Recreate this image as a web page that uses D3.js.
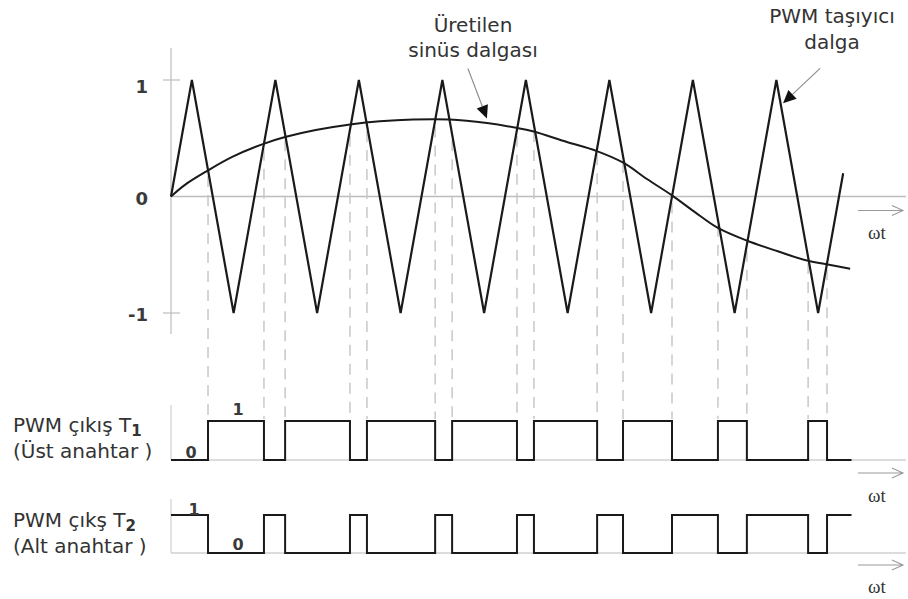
<!DOCTYPE html>
<html>
<head>
<meta charset="utf-8">
<script src="https://cdn.jsdelivr.net/npm/d3@7"></script>
<style>
  body { margin: 0; background: #fff; }
  svg { display: block; font-family: "DejaVu Sans", Verdana, sans-serif; }
</style>
</head>
<body>
<div id="chart"></div>
<script>
// carrier (triangle) corner points, ωt in degrees
const carrierT = [0, 7.5, 22.5, 37.5, 52.5, 67.5, 82.5, 97.5, 112.5, 127.5, 142.5, 157.5, 172.5, 187.5, 202.5, 217.5, 232.5, 241.5];
const carrierV = [0, 1, -1, 1, -1, 1, -1, 1, -1, 1, -1, 1, -1, 1, -1, 1, -1, 0.2];

// reference sine
const sineT = [0, 5, 13, 22, 33, 41, 52, 65, 75, 87, 100, 113.5, 124, 130, 142, 153, 162.5, 171, 180, 188, 196.5, 207, 218, 228.5, 235, 244];
const sineV = [0, 0.1, 0.22, 0.34, 0.45, 0.51, 0.57, 0.62, 0.645, 0.66, 0.66, 0.63, 0.59, 0.56, 0.47, 0.39, 0.29, 0.15, 0.01, -0.13, -0.27, -0.38, -0.47, -0.55, -0.58, -0.62];

// switching instants of T1 (ωt, degrees)
const switchT = [13.3, 33.4, 41, 64.3, 70.4, 94.9, 101, 124.3, 130.4, 153.1, 162.4, 180, 196.5, 206.9, 228.9, 235.7];
const pwmEnd = 244.5;

const yTicks = [1, 0, -1];

const W = 908, H = 599;
const svg = d3.select('#chart').append('svg')
  .attr('width', W)
  .attr('height', H);

// scales
const x = d3.scaleLinear().domain([0, 180]).range([171, 672]);
const y = d3.scaleLinear().domain([-1, 1]).range([313, 80]);
const yT1 = d3.scaleLinear().domain([0, 1]).range([460, 421]);
const yT2 = d3.scaleLinear().domain([0, 1]).range([553, 515]);
const axisEnd = 906;

const grey = '#bdbdbd';
const ink = '#1a1a1a';

const carrier = carrierT.map((t, i) => [t, carrierV[i]]);
const sine = sineT.map((t, i) => [t, sineV[i]]);

function carrierAt(t) {
  for (let i = 1; i < carrier.length; i++) {
    if (t <= carrier[i][0]) {
      const [t0, v0] = carrier[i - 1], [t1, v1] = carrier[i];
      return v0 + (v1 - v0) * (t - t0) / (t1 - t0);
    }
  }
  return carrier[carrier.length - 1][1];
}

// T1 state sequence: starts low, toggles at every switch
const t1Steps = [[0, 0]];
switchT.forEach((t, i) => t1Steps.push([t, (i + 1) % 2]));
t1Steps.push([pwmEnd, t1Steps[t1Steps.length - 1][1]]);
const t2Steps = t1Steps.map(d => [d[0], 1 - d[1]]);

// ---- axes of the top plot ----
svg.append('line')
  .attr('x1', x(0)).attr('x2', x(0))
  .attr('y1', 48).attr('y2', 334)
  .style('stroke', grey).style('stroke-width', 1.2);

svg.append('line')
  .attr('x1', x(0)).attr('x2', axisEnd)
  .attr('y1', y(0)).attr('y2', y(0))
  .style('stroke', grey).style('stroke-width', 1.5);

svg.selectAll('.ytick')
  .data(yTicks.filter(d => d !== 0))
  .enter().append('line')
  .attr('x1', x(0) - 8).attr('x2', x(0) + 9)
  .attr('y1', d => y(d)).attr('y2', d => y(d))
  .style('stroke', grey).style('stroke-width', 1.2);

svg.selectAll('.ylab')
  .data(yTicks)
  .enter().append('text')
  .attr('x', 148)
  .attr('y', d => y(d) + (d === 1 ? 13 : 8))
  .attr('text-anchor', 'end')
  .style('font-size', '18px')
  .style('font-weight', 'bold')
  .style('fill', '#3a3a3a')
  .text(d => d);

// ---- dashed projection lines ----
svg.selectAll('.proj')
  .data(switchT)
  .enter().append('line')
  .attr('x1', d => x(d)).attr('x2', d => x(d))
  .attr('y1', d => y(carrierAt(d)) + 6)
  .attr('y2', yT1(1) - 2)
  .style('stroke', '#c4c4c4')
  .style('stroke-width', 1.4)
  .style('stroke-dasharray', '11,8');

// ---- waves ----
const lineXY = d3.line().x(d => x(d[0])).y(d => y(d[1]));

svg.append('path')
  .attr('d', lineXY(carrier))
  .style('fill', 'none').style('stroke', ink)
  .style('stroke-width', 2.2).style('stroke-linejoin', 'miter');

svg.append('path')
  .attr('d', lineXY.curve(d3.curveCatmullRom)(sine))
  .style('fill', 'none').style('stroke', ink)
  .style('stroke-width', 2);

// ---- ωt arrows ----
function omegaArrow(yy, labelY) {
  svg.append('path')
    .attr('d', `M${axisEnd - 48},${yy}H${axisEnd - 4}M${axisEnd - 14},${yy - 5}L${axisEnd - 3},${yy}L${axisEnd - 14},${yy + 5}`)
    .style('fill', 'none').style('stroke', '#9a9a9a').style('stroke-width', 1.1);
  svg.append('text')
    .attr('x', axisEnd - 29).attr('y', labelY)
    .attr('text-anchor', 'middle')
    .style('font-family', '"Liberation Serif", "Times New Roman", serif')
    .style('font-size', '19px')
    .style('fill', '#333')
    .text('ωt');
}
omegaArrow(y(0) + 14, y(0) + 42);
omegaArrow(yT1(0) + 13, yT1(0) + 42);
omegaArrow(yT2(0) + 12, yT2(0) + 40);

// ---- annotation arrows ----
function pointer(tip, dx, dy) {
  const [tx, ty] = tip;
  const sx = tx + dx, sy = ty + dy;
  const len = Math.hypot(dx, dy), ux = -dx / len, uy = -dy / len;
  const hl = 13, hw = 6;
  const bx = tx - ux * hl, by = ty - uy * hl;
  svg.append('line')
    .attr('x1', sx).attr('y1', sy).attr('x2', bx).attr('y2', by)
    .style('stroke', '#8a8a8a').style('stroke-width', 1.1);
  svg.append('path')
    .attr('d', `M${tx},${ty}L${bx - uy * hw},${by + ux * hw}L${bx + uy * hw},${by - ux * hw}Z`)
    .style('fill', '#111');
}
pointer([x(113.5), y(0.67)], -19, -50);
pointer([x(219.9), y(0.8)], 37, -35);

// ---- top labels ----
function label(lines, cx, baselines) {
  lines.forEach((s, i) => {
    svg.append('text')
      .attr('x', cx).attr('y', baselines[i])
      .attr('text-anchor', 'middle')
      .style('font-size', '20px')
      .style('fill', '#333')
      .text(s);
  });
}
label(['Üretilen', 'sinüs dalgası'], 473, [32, 57]);
label(['PWM taşıyıcı', 'dalga'], 832, [23, 49]);

// ---- PWM panels ----
function panel(ys, steps) {
  svg.append('line')
    .attr('x1', x(0)).attr('x2', axisEnd)
    .attr('y1', ys(0)).attr('y2', ys(0))
    .style('stroke', '#d0d0d0').style('stroke-width', 1.3);
  svg.append('line')
    .attr('x1', x(0)).attr('x2', x(0))
    .attr('y1', ys(1) - 16).attr('y2', ys(0))
    .style('stroke', '#d0d0d0').style('stroke-width', 1.2);
  svg.append('path')
    .attr('d', d3.line().curve(d3.curveStepAfter).x(d => x(d[0])).y(d => ys(d[1]))(steps))
    .style('fill', 'none').style('stroke', ink).style('stroke-width', 2);
}
panel(yT1, t1Steps);
panel(yT2, t2Steps);

function small(txt, xx, yy) {
  svg.append('text')
    .attr('x', xx).attr('y', yy)
    .attr('text-anchor', 'middle')
    .style('font-size', '16px')
    .style('font-weight', 'bold')
    .style('fill', '#3a3a3a')
    .text(txt);
}
small('1', 238, yT1(1) - 6);
small('0', 191, yT1(0) - 2);
small('1', 194, yT2(1) - 0);
small('0', 238, yT2(0) - 3);

function sideLabel(first, sub, second, base1, base2) {
  const t = svg.append('text')
    .attr('x', 13).attr('y', base1)
    .style('font-size', '20px')
    .style('fill', '#333');
  t.append('tspan').text(first);
  t.append('tspan')
    .attr('dy', 4)
    .style('font-size', '15px')
    .style('font-weight', 'bold')
    .text(sub);
  svg.append('text')
    .attr('x', 13).attr('y', base2)
    .style('font-size', '20px')
    .style('fill', '#333')
    .text(second);
}
sideLabel('PWM çıkış T', '1', '(Üst anahtar )', 432, 458);
sideLabel('PWM çıkş T', '2', '(Alt anahtar )', 527, 553);
</script>
</body>
</html>
